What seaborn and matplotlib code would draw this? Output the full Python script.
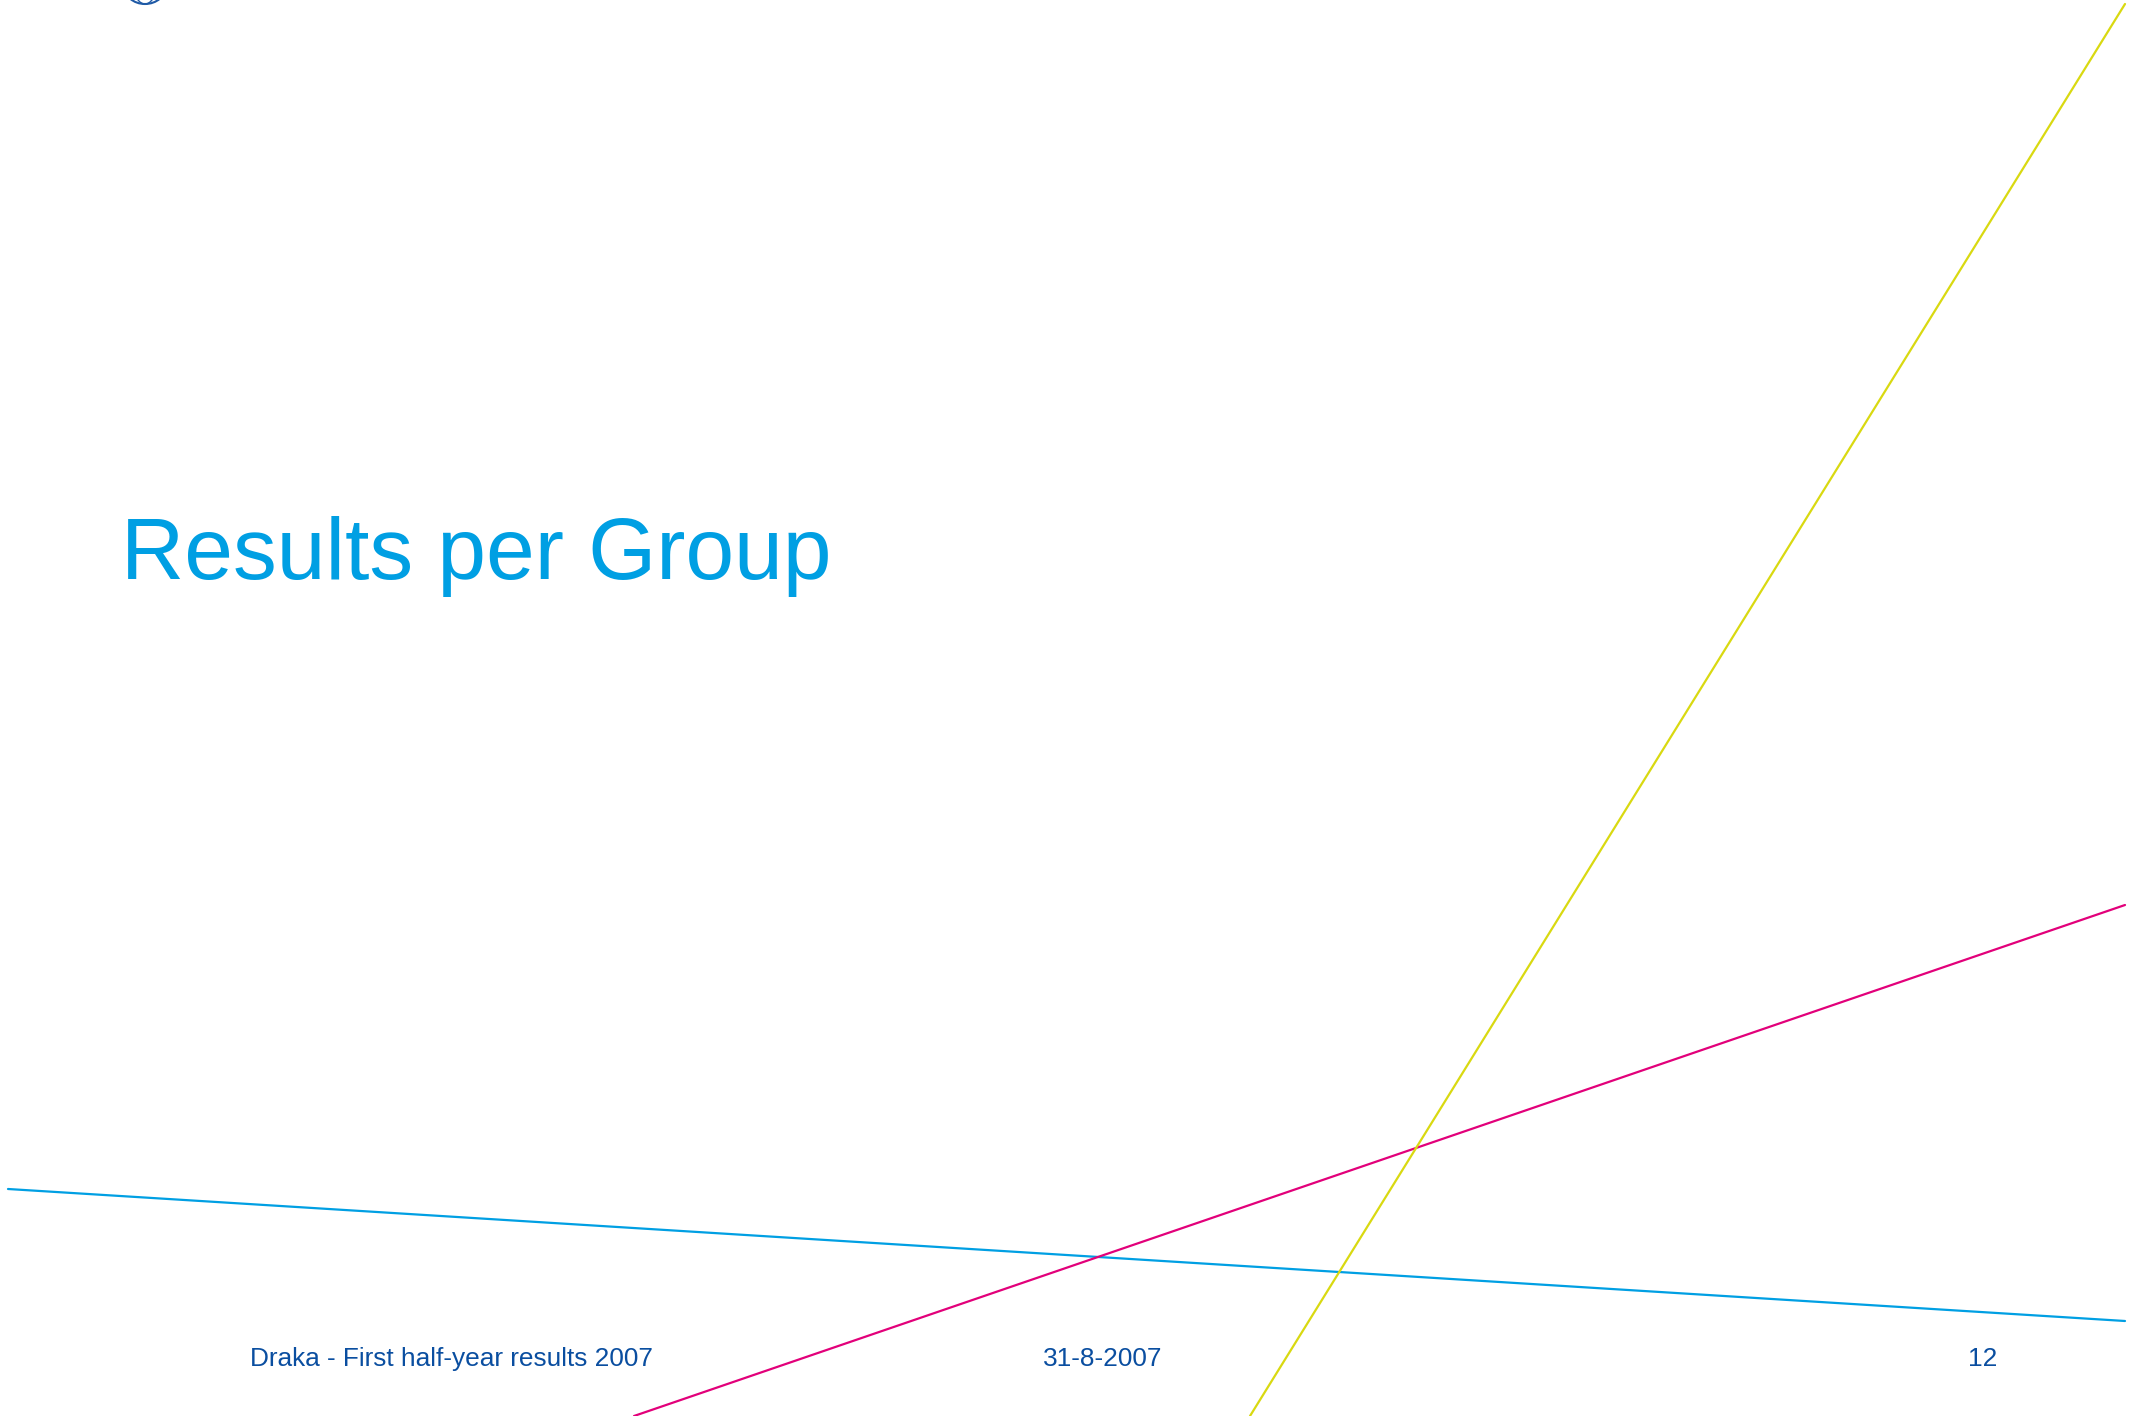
import numpy as np
import pandas as pd
import matplotlib
matplotlib.use("Agg")
import matplotlib.pyplot as plt
from matplotlib.patches import Ellipse
import seaborn as sns

# ===============================
# DATA (slide is 2134 x 1416 px, y grows downward)
# ===============================
line_names = ["blue", "magenta", "yellow"]
line_x0 = [8, 634, 1250]
line_y0 = [1189, 1416, 1416]
line_x1 = [2125, 2125, 2125]
line_y1 = [1321, 905, 4]
line_colors = {"blue": "#009FE3", "magenta": "#E2007A", "yellow": "#D9D911"}

title_text = "Results per Group"
footer_left = "Draka - First half-year results 2007"
footer_date = "31-8-2007"
footer_page = "12"

# ===============================
# BUILD TABLE
# ===============================
df = pd.DataFrame({
    "line": line_names * 2,
    "x": line_x0 + line_x1,
    "y": line_y0 + line_y1,
})

# ===============================
# PLOT
# ===============================
sns.set_theme(style="white")
plt.rcParams["font.family"] = ["Liberation Sans", "DejaVu Sans"]

W, H = 2134, 1416
fig = plt.figure(figsize=(W / 100, H / 100), dpi=100)
ax = fig.add_axes([0, 0, 1, 1])

sns.lineplot(data=df, x="x", y="y", hue="line", palette=line_colors,
             units="line", estimator=None, sort=False, linewidth=1.6,
             legend=False, ax=ax)

ax.set_xlim(0, W)
ax.set_ylim(H, 0)
ax.axis("off")

# bit of the logo peeking in at the top
ax.add_patch(Ellipse((145, -14), 42, 36, fill=False, edgecolor="#1F5AA6", linewidth=1.5))
ax.add_patch(Ellipse((145, -14), 22, 36, fill=False, edgecolor="#1F5AA6", linewidth=1.0))

# title
ax.text(121, 579, title_text, fontsize=63, color="#009FE3", va="baseline", ha="left")

# footer
foot_color = "#0A4EA0"
ax.text(250, 1366, footer_left, fontsize=18.9, color=foot_color, va="baseline", ha="left")
ax.text(1103, 1366, footer_date, fontsize=18.9, color=foot_color, va="baseline", ha="center")
ax.text(1997, 1366, footer_page, fontsize=18.9, color=foot_color, va="baseline", ha="right")

plt.savefig("out.png", dpi=100, facecolor="white")
plt.close()
